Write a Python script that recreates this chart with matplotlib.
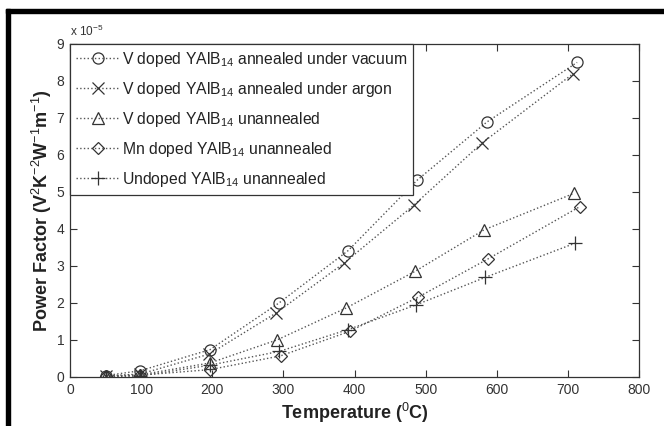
import matplotlib
matplotlib.use('Agg')
import matplotlib.pyplot as plt
from matplotlib.patches import Rectangle

plt.rcParams['font.family'] = ['Liberation Sans', 'DejaVu Sans']
plt.rcParams['mathtext.fontset'] = 'custom'
plt.rcParams['mathtext.rm'] = 'Liberation Sans'
plt.rcParams['mathtext.it'] = 'Liberation Sans'

# temperatures (C) and power factor (x 1e-5 V^2 K^-2 W^-1 m^-1)
t_vac = [51, 99, 197, 294, 391, 488, 586, 713]
pf_vac = [0.04, 0.17, 0.74, 2.0, 3.41, 5.31, 6.88, 8.49]
t_arg = [50, 99, 196, 290, 385, 483, 579, 707]
pf_arg = [0.03, 0.08, 0.62, 1.73, 3.07, 4.63, 6.31, 8.18]
t_vun = [51, 99, 197, 291, 388, 485, 582, 709]
pf_vun = [0.02, 0.06, 0.38, 1.0, 1.86, 2.85, 3.97, 4.96]
t_mn = [51, 99, 197, 296, 393, 489, 588, 717]
pf_mn = [0.02, 0.05, 0.2, 0.57, 1.23, 2.15, 3.19, 4.6]
t_und = [51, 99, 197, 294, 391, 487, 584, 710]
pf_und = [0.0, 0.03, 0.32, 0.69, 1.28, 1.95, 2.69, 3.61]

labels = ['V doped YAlB$_{14}$ annealed under vacuum',
          'V doped YAlB$_{14}$ annealed under argon',
          'V doped YAlB$_{14}$ unannealed',
          'Mn doped YAlB$_{14}$ unannealed',
          'Undoped YAlB$_{14}$ unannealed']

fig = plt.figure(figsize=(6.64, 4.26), dpi=100)
ax = fig.add_axes([70/664, 1 - 377/426, (639 - 70)/664, (377 - 43.5)/426])

# border bars around the figure
fig.patches.append(Rectangle((6/664, 1 - 13/426), 1, 4/426, transform=fig.transFigure,
                             color='black', zorder=0))
fig.patches.append(Rectangle((6/664, 0), 4/664, 1 - 9/426, transform=fig.transFigure,
                             color='black', zorder=0))

series = [(t_vac, pf_vac, 'o'), (t_arg, pf_arg, 'x'), (t_vun, pf_vun, '^'),
          (t_mn, pf_mn, 'D'), (t_und, pf_und, '+')]
sizes = {'o': 8, 'x': 8, '^': 8, 'D': 6.5, '+': 10}
for (x, y, m), lab in zip(series, labels):
    ax.plot(x, y, linestyle=':', color='#555555', linewidth=1.0,
            marker=m, markersize=sizes[m], markerfacecolor='none',
            markeredgecolor='#333333', markeredgewidth=0.9, label=lab)

ax.set_xlim(0, 800)
ax.set_ylim(0, 9)
ax.set_xticks(range(0, 801, 100))
ax.set_yticks(range(0, 10))
ax.tick_params(direction='in', top=True, right=True, length=5, width=0.8,
               labelsize=10, labelcolor='#333333', color='#333333', pad=4)
for s in ax.spines.values():
    s.set_color('#333333')
    s.set_linewidth(0.9)

ax.text(0, 1.012, 'x 10$^{-5}$', transform=ax.transAxes, fontsize=8.5,
        color='#333333', ha='left', va='bottom')

ax.set_xlabel('Temperature ($^0$C)', fontsize=13, color='#222222',
              fontweight='bold', labelpad=3)
ax.set_ylabel('Power Factor (V$^2$K$^{-2}$W$^{-1}$m$^{-1}$)', fontsize=13,
              color='#222222', fontweight='bold', labelpad=2)

leg = ax.legend(loc='upper left', fontsize=11.3, handlelength=2.8, handletextpad=0.1,
                borderaxespad=0, borderpad=0.4, labelspacing=0.7, fancybox=False,
                framealpha=1, edgecolor='#333333')
leg.get_frame().set_linewidth(0.9)
for txt in leg.get_texts():
    txt.set_color('#222222')

fig.savefig('out.png', dpi=100)
